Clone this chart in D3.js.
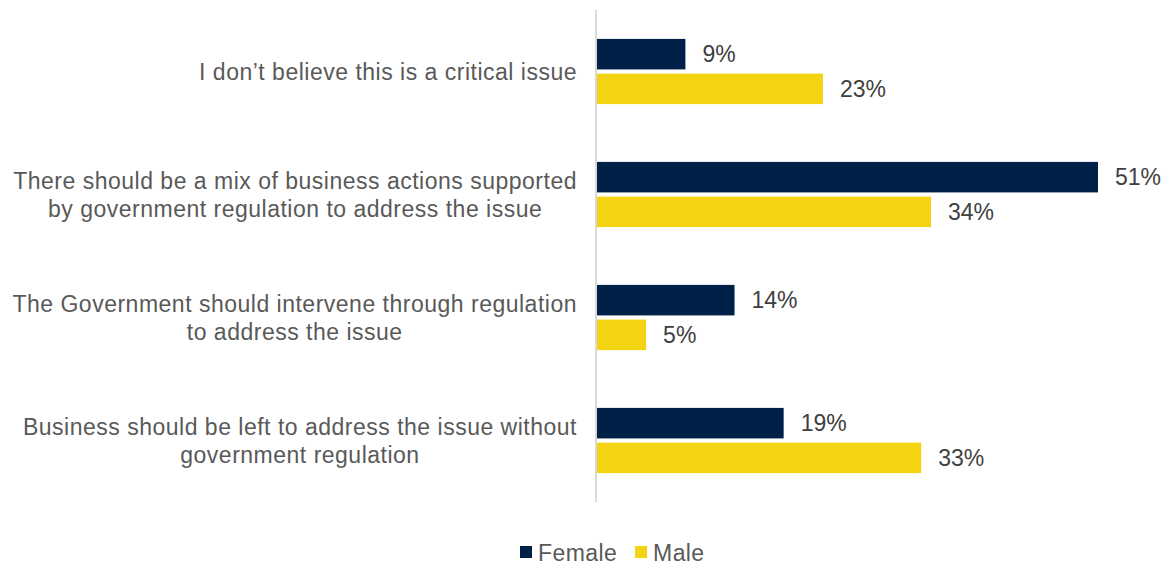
<!DOCTYPE html>
<html>
<head>
<meta charset="utf-8">
<script src="https://cdn.jsdelivr.net/npm/d3@7"></script>
<style>
  html, body { margin: 0; padding: 0; background: #fff; }
  svg { display: block; font-family: "Liberation Sans", Arial, sans-serif; }
</style>
</head>
<body>
<svg id="chart" width="1173" height="566"></svg>
<script>
// Survey responses by gender (percent)
const categories = [
  ["I don\u2019t believe this is a critical issue"],
  ["There should be a mix of business actions supported", "by government regulation to address the issue"],
  ["The Government should intervene through regulation", "to address the issue"],
  ["Business should be left to address the issue without", "government regulation"]
];
const seriesNames = ["Female", "Male"];
const female = [9, 51, 14, 19];
const male = [23, 34, 5, 33];
const colors = ["#002147", "#F4D312"];

const svg = d3.select("#chart");

const x = d3.scaleLinear().domain([0, 51]).range([597, 1098]);
const y = d3.scaleBand().domain(d3.range(categories.length))
  .range([10, 502]).paddingInner(0.47).paddingOuter(0.235);
const ySub = d3.scaleBand().domain(seriesNames)
  .range([0, y.bandwidth()]).paddingInner(0.12);

const rows = categories.map((c, i) => ({
  i, lines: c, values: [female[i], male[i]]
}));

// bars
const g = svg.append("g");
const groups = g.selectAll("g.cat").data(rows).join("g")
  .attr("class", "cat")
  .attr("transform", d => `translate(0,${y(d.i)})`);

groups.selectAll("rect").data(d => d.values.map((v, k) => ({ v, k })))
  .join("rect")
  .attr("x", x(0))
  .attr("y", d => ySub(seriesNames[d.k]))
  .attr("width", d => x(d.v) - x(0))
  .attr("height", ySub.bandwidth())
  .attr("fill", d => colors[d.k]);

groups.selectAll("text.val").data(d => d.values.map((v, k) => ({ v, k })))
  .join("text")
  .attr("class", "val")
  .attr("x", d => x(d.v) + 17)
  .attr("y", d => ySub(seriesNames[d.k]) + ySub.bandwidth() / 2)
  .attr("dy", "0.36em")
  .attr("font-size", 23)
  .attr("fill", "#404040")
  .text(d => d.v + "%");

// vertical axis line
svg.append("line")
  .attr("x1", 596).attr("x2", 596)
  .attr("y1", 10).attr("y2", 502)
  .attr("stroke", "#d9d9d9").attr("stroke-width", 2);

// category labels: block right-aligned, lines centered within block
const labelRight = 577;
const lineH = 27.5;
rows.forEach(r => {
  const tg = svg.append("g");
  const texts = r.lines.map(ln => tg.append("text")
    .attr("font-size", 23)
    .attr("fill", "#595959")
    .attr("text-anchor", "middle")
    .attr("letter-spacing", "0.5px")
    .text(ln));
  const maxW = d3.max(texts, t => t.node().getComputedTextLength());
  const cx = labelRight - maxW / 2;
  const cy = y(r.i) + y.bandwidth() / 2;
  const n = r.lines.length;
  texts.forEach((t, j) => {
    t.attr("x", cx)
     .attr("y", cy + (j - (n - 1) / 2) * lineH)
     .attr("dy", "0.36em");
  });
});

// legend
const legend = svg.append("g");
let lx = 520;
seriesNames.forEach((name, k) => {
  legend.append("rect")
    .attr("x", lx).attr("y", 546).attr("width", 12).attr("height", 12)
    .attr("fill", colors[k]);
  const t = legend.append("text")
    .attr("x", lx + 18).attr("y", 561)
    .attr("font-size", 23).attr("fill", "#595959")
    .attr("letter-spacing", "0.4px")
    .text(name);
  lx += 18 + t.node().getComputedTextLength() + 18;
});
</script>
</body>
</html>
